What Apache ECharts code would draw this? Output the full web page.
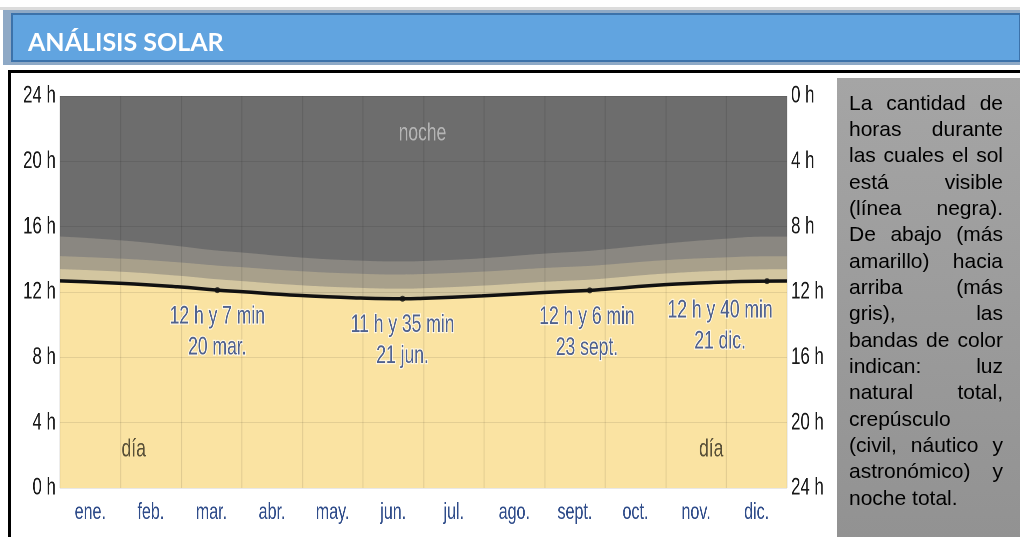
<!DOCTYPE html>
<html>
<head>
<meta charset="utf-8">
<script src="https://cdn.jsdelivr.net/npm/echarts@6/dist/echarts.min.js"></script>
<style>
  html, body { margin: 0; padding: 0; background: #fff; }
  #page { position: relative; width: 1020px; height: 537px; overflow: hidden; }
  #frame { position: absolute; left: 0; top: 0; width: 1020px; height: 537px; }
  /* the plot is drawn wide and squeezed to imitate the narrow font of the original */
  #plot { position: absolute; left: 0; top: 0; width: 1457.14px; height: 537px;
          transform: scaleX(0.7); transform-origin: 0 0; }
</style>
</head>
<body>
<div id="page">
  <div id="frame"></div>
  <div id="plot"></div>
</div>
<script>
const SX = 0.7;

// months on the x axis
const months = ["ene.", "feb.", "mar.", "abr.", "may.", "jun.", "jul.", "ago.", "sept.", "oct.", "nov.", "dic."];

// day of year and hours of sun
const days     = [0,     31,    59,    79,     90,    120,   151,   172,    182,   212,   243,   266,  273,   304,   334,   355,    365];
const daylight = [12.68, 12.53, 12.32, 12.117, 12.03, 11.79, 11.63, 11.583, 11.61, 11.76, 11.97, 12.1, 12.16, 12.45, 12.61, 12.667, 12.67];
// twilight band thickness (hours) above the daylight line
const civil    = [0.72, 0.71, 0.68, 0.66, 0.65, 0.63, 0.62, 0.62, 0.62, 0.63, 0.65, 0.66, 0.66, 0.68, 0.71, 0.72, 0.72];
const nautical = [0.80, 0.80, 0.82, 0.84, 0.85, 0.86, 0.87, 0.87, 0.87, 0.86, 0.85, 0.84, 0.84, 0.82, 0.80, 0.80, 0.80];
const astro    = [1.20, 1.12, 1.00, 0.92, 0.90, 0.84, 0.80, 0.80, 0.80, 0.82, 0.88, 0.92, 0.94, 1.02, 1.14, 1.20, 1.20];

// marked dates
const keyDays  = [79, 172, 266, 355];
const keyHours = [12 + 7 / 60, 11 + 35 / 60, 12 + 6 / 60, 12 + 40 / 60];
const keyDates = ["20 mar.", "21 jun.", "23 sept.", "21 dic."];

// side note
const noteLines = [
  "La cantidad de", "horas durante", "las cuales el sol", "está visible",
  "(línea negra).", "De abajo (más", "amarillo) hacia", "arriba (más",
  "gris), las", "bandas de color", "indican: luz", "natural total,",
  "crepúsculo", "(civil, náutico y", "astronómico) y", "noche total."
];
const noteNoJustify = ["crepúsculo", "noche total."];

// layered tops of each band (drawn from the top band down)
const topCivil = days.map((d, i) => daylight[i] + civil[i]);
const topNaut = days.map((d, i) => topCivil[i] + nautical[i]);
const topAstro = days.map((d, i) => topNaut[i] + astro[i]);
const pair = (arr) => days.map((d, i) => [d, arr[i]]);

const font = '"Liberation Sans", Arial, sans-serif';

function fmtHours(v) {
  let h = Math.floor(v);
  let m = Math.round((v - h) * 60);
  if (m === 60) { h += 1; m = 0; }
  return h + " h y " + m + " min";
}

// ---------- header, frame and note ----------
const NOTE_X = 849, NOTE_W = 154, NOTE_Y = 104, NOTE_LH = 26.33, NOTE_FS = 21;
const mctx = document.createElement("canvas").getContext("2d");
mctx.font = NOTE_FS + "px " + font;
const noteTexts = [];
noteLines.forEach((line, i) => {
  const y = NOTE_Y + i * NOTE_LH;
  const words = line.split(" ");
  const style = { fontSize: NOTE_FS, fontFamily: font, fill: "#000", verticalAlign: "middle" };
  if (noteNoJustify.includes(line) || words.length < 2) {
    noteTexts.push({ type: "text", z: 10, x: NOTE_X, y, style: { ...style, text: line } });
    return;
  }
  const widths = words.map((w) => mctx.measureText(w).width);
  const gap = (NOTE_W - widths.reduce((a, b) => a + b, 0)) / (words.length - 1);
  let x = NOTE_X;
  words.forEach((w, k) => {
    noteTexts.push({ type: "text", z: 10, x, y, style: { ...style, text: w } });
    x += widths[k] + gap;
  });
});

const frame = echarts.init(document.getElementById("frame"));
frame.setOption({
  animation: false,
  graphic: [
    { type: "rect", shape: { x: 0, y: 7, width: 1020, height: 3 }, style: { fill: "#dcdcdc" } },
    { type: "rect", shape: { x: 3, y: 10, width: 1017, height: 55 }, style: { fill: "#8ea9c6" } },
    { type: "rect", shape: { x: 12, y: 14, width: 1008, height: 47 }, style: { fill: "#61a4e0", stroke: "#3c72aa", lineWidth: 2 } },
    { type: "text", x: 28, y: 43, style: { text: "ANÁLISIS SOLAR", fontSize: 25, fontWeight: "bold", fontFamily: 'Lato, "Liberation Sans", sans-serif', fill: "#fff", verticalAlign: "middle" } },
    { type: "rect", shape: { x: 8, y: 70, width: 1012, height: 3 }, style: { fill: "#000" } },
    { type: "rect", shape: { x: 8, y: 70, width: 3, height: 467 }, style: { fill: "#000" } },
    {
      type: "rect", z: 5,
      shape: { x: 837, y: 78, width: 183, height: 459 },
      style: { fill: new echarts.graphic.LinearGradient(0, 0, 0, 1, [{ offset: 0, color: "#a5a5a5" }, { offset: 1, color: "#929292" }]) }
    },
    ...noteTexts,
  ],
});

// ---------- plot ----------
const plot = echarts.init(document.getElementById("plot"), null, { devicePixelRatio: 2 });

const band = (name, data, color) => ({
  name,
  type: "line",
  xAxisIndex: 1,
  yAxisIndex: 0,
  data,
  smooth: true,
  symbol: "none",
  lineStyle: { width: 0 },
  areaStyle: { color, opacity: 1 },
  z: 1,
  silent: true,
});

plot.setOption({
  animation: false,
  grid: { left: 60 / SX, right: (1020 - 787) / SX, top: 96, bottom: 49 },
  xAxis: [
    {
      type: "category",
      data: months,
      boundaryGap: true,
      z: 3,
      axisLine: { show: false },
      axisTick: { show: false },
      splitLine: { show: true, lineStyle: { color: "rgba(0,0,0,0.1)", width: 1.4 } },
      axisLabel: { interval: 0, color: "#2f4c8a", fontFamily: font, fontSize: 23, margin: 13 },
    },
    { type: "value", min: 0, max: 365, show: false },
  ],
  yAxis: [
    {
      type: "value", min: 0, max: 24, interval: 4, z: 3,
      axisLine: { show: false }, axisTick: { show: false },
      splitLine: { show: true, lineStyle: { color: "rgba(0,0,0,0.09)", width: 1 } },
      axisLabel: { formatter: "{value} h", color: "#1a1a1a", fontFamily: font, fontSize: 24, margin: 6 },
    },
    {
      type: "value", min: 0, max: 24, interval: 4, inverse: true, position: "right",
      axisLine: { show: false }, axisTick: { show: false }, splitLine: { show: false },
      axisLabel: { formatter: "{value} h", color: "#1a1a1a", fontFamily: font, fontSize: 24, margin: 6 },
    },
  ],
  series: [
    band("noche", days.map((d) => [d, 24]), "#6d6d6d"),
    band("astronómico", pair(topAstro), "#8a8781"),
    band("náutico", pair(topNaut), "#a8a08b"),
    band("civil", pair(topCivil), "#d3c6a0"),
    band("día", pair(daylight), "#fae3a2"),
    {
      name: "horas de sol",
      type: "line",
      xAxisIndex: 1,
      yAxisIndex: 0,
      data: pair(daylight),
      smooth: true,
      symbol: "none",
      lineStyle: { color: "#111", width: 3.5 },
      z: 5,
      silent: true,
    },
    {
      name: "fechas",
      type: "scatter",
      xAxisIndex: 1,
      yAxisIndex: 0,
      symbolSize: [8.5, 6],
      itemStyle: { color: "#111" },
      z: 6,
      data: keyDays.map((d, i) => ({
        value: [d, keyHours[i], keyDates[i]],
        label: i === 3 ? { offset: [-67, 0], distance: 11 } : (i === 2 ? { offset: [-4, 0] } : {}),
      })),
      label: {
        show: true,
        position: "bottom",
        distance: 8,
        formatter: (p) => fmtHours(p.value[1]) + "\n" + p.value[2],
        color: "#243d7c",
        fontFamily: font,
        fontSize: 25,
        lineHeight: 31,
        align: "center",
        textBorderColor: "rgba(255,255,255,0.85)",
        textBorderWidth: 2.5,
      },
    },
    {
      name: "rótulos",
      type: "scatter",
      xAxisIndex: 1,
      yAxisIndex: 0,
      symbolSize: 0,
      z: 6,
      data: [
        { value: [182, 21.7, "noche"], label: { color: "#c6c6c6" } },
        { value: [37, 2.35, "día"], label: { color: "#2f2a1e" } },
        { value: [327, 2.35, "día"], label: { color: "#2f2a1e" } },
      ],
      label: {
        show: true,
        position: "inside",
        formatter: (p) => p.value[2],
        fontFamily: font,
        fontSize: 25,
      },
    },
  ],
});
</script>
</body>
</html>
